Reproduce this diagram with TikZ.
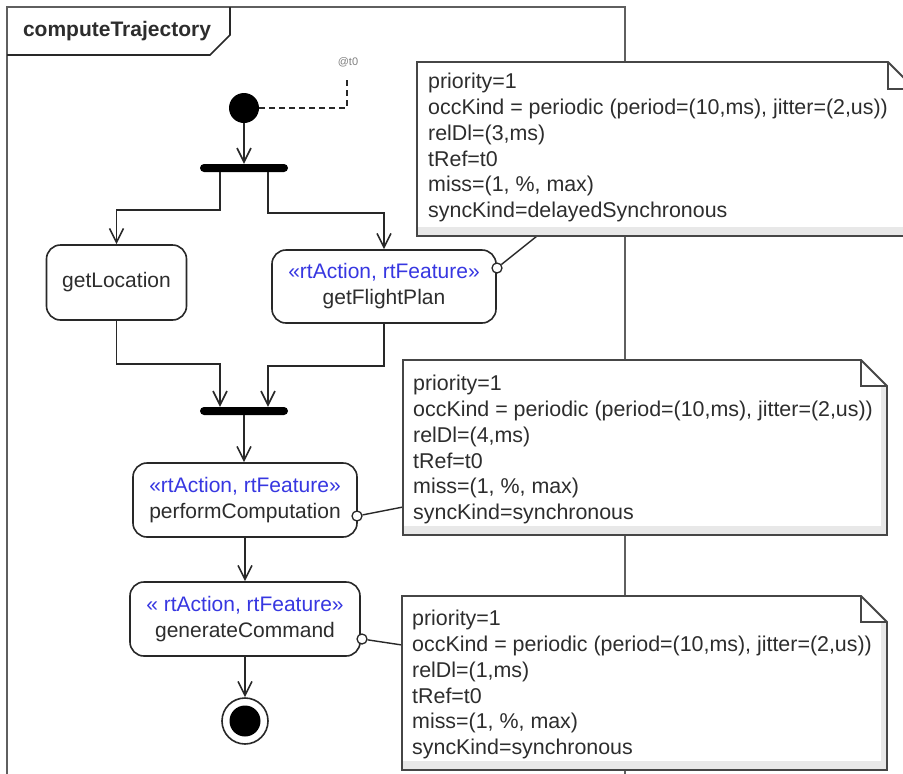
\documentclass[tikz,border=0pt]{standalone}
\usepackage{fontspec}
\setmainfont{Liberation Sans}
\usetikzlibrary{arrows.meta,calc}
\definecolor{ln}{RGB}{40,40,40}
\definecolor{stereo}{RGB}{55,55,225}
\definecolor{txt}{RGB}{45,45,45}
\definecolor{framec}{RGB}{95,95,95}
\definecolor{notec}{RGB}{70,70,70}
\newcommand{\umlnote}[5]{% x1,y1,x2,y2,fold
  \fill[white] (#1,#2) -- ({#3-#5},#2) -- (#3,{#2+#5}) -- (#3,#4) -- (#1,#4) -- cycle;
  \fill[gray!18] (#1,{#4-9}) rectangle (#3,#4);
  \fill[gray!18] ({#3-6},{#2+#5}) rectangle (#3,#4);
  \draw[notec, line width=1.8pt, line join=miter] (#1,#2) -- ({#3-#5},#2) -- (#3,{#2+#5}) -- (#3,#4) -- (#1,#4) -- cycle;
  \draw[notec, line width=1.2pt] ({#3-#5},#2) -- ({#3-#5},{#2+#5}) -- (#3,{#2+#5});
}
\begin{document}
\begin{tikzpicture}[x=1pt,y=-1pt,
  every node/.style={font=\fontsize{21}{26}\selectfont, text=txt},
  action/.style={draw=ln, line width=1.6pt, rounded corners=14pt, fill=white, align=center, inner sep=0pt},
  flow/.style={draw=ln, line width=1.6pt, -{Straight Barb[length=14pt,width=14pt,line width=1.6pt]}},
  barnode/.style={fill=black, rounded corners=4pt, minimum width=88pt, minimum height=8pt, inner sep=0pt},
  portc/.style={circle, draw=ln, line width=1.3pt, fill=white, minimum size=10pt, inner sep=0pt},
  conn/.style={draw=ln, line width=1.4pt},
  notetext/.style={anchor=north west, align=left, inner sep=0pt, font=\fontsize{21.4}{25.8}\selectfont}
]
\useasboundingbox (0,0) rectangle (903,774);
\clip (0,0) rectangle (903,774);
\fill[white] (0,0) rectangle (903,774);

% frame
\draw[framec, line width=2.4pt] (7,780) -- (7,7) -- (625,7) -- (625,780);
\draw[ln, line width=1.6pt] (7,55) -- (210,55) -- (230,35) -- (230,7);
\node[font=\fontsize{21}{26}\selectfont\bfseries] (title) at (117,31) {computeTrajectory};

% initial node and time mark
\node[circle, fill=black, minimum size=30pt, inner sep=0pt] (init) at (244,108) {};
\coordinate (tc) at (347,78);
\draw[ln, line width=1.6pt, dash pattern=on 6pt off 4pt] (init.east) -| (tc);
\node[font=\fontsize{11}{13}\selectfont, text=gray] (tlbl) at (348,62) {@t0};

% fork
\node[barnode] (fork) at (244,168) {};
\draw[flow] (init.south) -- (fork.north);

% actions
\node[action, minimum width=140pt, minimum height=75pt] (getloc) at (116.5,282.5) {getLocation};
\node[action, minimum width=224pt, minimum height=73pt] (gfp) at (384,286.5) {\textcolor{stereo}{«rtAction, rtFeature»}\\getFlightPlan};

\draw[flow] ($(fork.south)+(-24,0)$) -- ++(0,38) -| (getloc.north);
\draw[flow] ($(fork.south)+(24,0)$) -- ++(0,41) -| (gfp.north);

% join
\node[barnode] (join) at (244,411) {};
\draw[flow] (getloc.south) -- ++(0,43) -| ($(join.north)+(-24,0)$);
\draw[flow] (gfp.south) -- ++(0,42) -| ($(join.north)+(24,0)$);

\node[action, minimum width=224pt, minimum height=74pt] (perf) at (245,500) {\textcolor{stereo}{«rtAction, rtFeature»}\\performComputation};
\node[action, minimum width=230pt, minimum height=74pt] (gen) at (245,619) {\textcolor{stereo}{« rtAction, rtFeature»}\\generateCommand};

\draw[flow] (join.south) -- (join.south |- perf.north);
\draw[flow] (perf.south) -- (perf.south |- gen.north);

% final node
\node[circle, draw=ln, line width=1.6pt, fill=white, minimum size=46pt, inner sep=0pt] (final) at (245,721) {};
\node[circle, fill=black, minimum size=31pt, inner sep=0pt] (finalin) at (final.center) {};
\draw[flow] (gen.south) -- (final.north);

% pins and note connectors
\node[portc] (p1) at (497,268) {};
\node[portc] (p2) at (357,516) {};
\node[portc] (p3) at (362,639) {};
\coordinate (n1a) at (537,236);
\coordinate (n2a) at (403,507);
\coordinate (n3a) at (402,645);
\draw[conn] (p1) -- (n1a);
\draw[conn] (p2) -- (n2a);
\draw[conn] (p3) -- (n3a);

% notes
\umlnote{417}{62}{915}{236}{27}
\node[notetext] (note1) at (428,73) {priority=1\\occKind = periodic (period=(10,ms), jitter=(2,us))\\relDl=(3,ms)\\tRef=t0\\miss=(1, \%, max)\\syncKind=delayedSynchronous};
\umlnote{403}{360}{887}{535}{26}
\node[notetext] (note2) at (413,375) {priority=1\\occKind = periodic (period=(10,ms), jitter=(2,us))\\relDl=(4,ms)\\tRef=t0\\miss=(1, \%, max)\\syncKind=synchronous};
\umlnote{402}{596}{887}{770}{26}
\node[notetext] (note3) at (412,610) {priority=1\\occKind = periodic (period=(10,ms), jitter=(2,us))\\relDl=(1,ms)\\tRef=t0\\miss=(1, \%, max)\\syncKind=synchronous};
\end{tikzpicture}
\end{document}
